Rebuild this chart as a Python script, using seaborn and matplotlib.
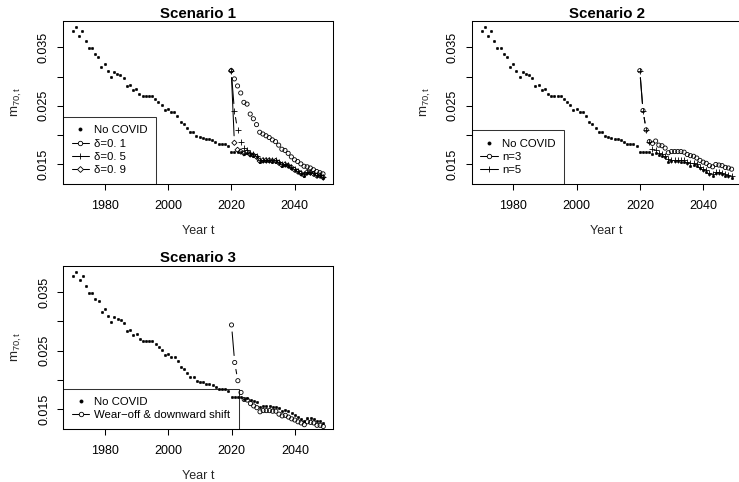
import numpy as np
import matplotlib
matplotlib.use("Agg")
import matplotlib.pyplot as plt
import seaborn as sns
from matplotlib.lines import Line2D

# ---------------------------------------
# data
# ---------------------------------------
years = np.arange(1970, 2050)
covid_years = np.arange(2020, 2050)

no_covid = [
    0.0378, 0.0385, 0.0370, 0.0378, 0.0360, 0.0349, 0.0349, 0.0338, 0.0334, 0.0316,
    0.0321, 0.0309, 0.0299, 0.0307, 0.0304, 0.0303, 0.0297, 0.0284, 0.0285, 0.0277,
    0.0278, 0.0270, 0.0266, 0.0267, 0.0267, 0.0266, 0.0261, 0.0257, 0.0251, 0.0243,
    0.0245, 0.0239, 0.0240, 0.0232, 0.0223, 0.0219, 0.0212, 0.0205, 0.0206, 0.0199,
    0.0197, 0.0196, 0.0193, 0.0193, 0.0191, 0.0188, 0.0185, 0.0185, 0.0185, 0.0182,
    0.0172, 0.0172, 0.0172, 0.0171, 0.0168, 0.0170, 0.0166, 0.0165, 0.0162, 0.0155,
    0.0156, 0.0156, 0.0156, 0.0155, 0.0155, 0.0152, 0.0148, 0.0149, 0.0147, 0.0144,
    0.0140, 0.0137, 0.0134, 0.0131, 0.0136, 0.0135, 0.0133, 0.0130, 0.0130, 0.0127,
]

delta_01 = [
    0.0310, 0.0296, 0.0284, 0.0272, 0.0256, 0.0253, 0.0236, 0.0228, 0.0218, 0.0205,
    0.0202, 0.0199, 0.0196, 0.0192, 0.0189, 0.0183, 0.0176, 0.0174, 0.0169, 0.0163,
    0.0158, 0.0155, 0.0151, 0.0147, 0.0146, 0.0144, 0.0141, 0.0138, 0.0136, 0.0134,
]
delta_05 = [
    0.0310, 0.0242, 0.0209, 0.0189, 0.0178, 0.0175, 0.0169, 0.0168, 0.0165, 0.0158,
    0.0158, 0.0158, 0.0158, 0.0157, 0.0157, 0.0154, 0.0150, 0.0151, 0.0149, 0.0146,
    0.0142, 0.0139, 0.0136, 0.0133, 0.0138, 0.0137, 0.0135, 0.0132, 0.0132, 0.0129,
]
delta_09 = [
    0.0310, 0.0187, 0.0175, 0.0172, 0.0169, 0.0171, 0.0167, 0.0166, 0.0163, 0.0156,
    0.0157, 0.0157, 0.0157, 0.0156, 0.0156, 0.0153, 0.0149, 0.0150, 0.0148, 0.0145,
    0.0141, 0.0138, 0.0135, 0.0132, 0.0137, 0.0136, 0.0134, 0.0131, 0.0131, 0.0128,
]

n3 = [
    0.0310, 0.0242, 0.0209, 0.0189, 0.0186, 0.0190, 0.0183, 0.0182, 0.0178, 0.0170,
    0.0172, 0.0172, 0.0172, 0.0172, 0.0171, 0.0167, 0.0165, 0.0164, 0.0161, 0.0157,
    0.0154, 0.0152, 0.0148, 0.0146, 0.0150, 0.0149, 0.0148, 0.0145, 0.0144, 0.0142,
]
n5 = [
    0.0310, 0.0242, 0.0209, 0.0189, 0.0177, 0.0175, 0.0170, 0.0168, 0.0165, 0.0159,
    0.0158, 0.0158, 0.0158, 0.0158, 0.0157, 0.0155, 0.0153, 0.0152, 0.0150, 0.0146,
    0.0143, 0.0140, 0.0136, 0.0133, 0.0138, 0.0137, 0.0135, 0.0133, 0.0132, 0.0130,
]

wear_off = [
    0.0294, 0.0230, 0.0199, 0.0179, 0.0167, 0.0166, 0.0160, 0.0156, 0.0153, 0.0146,
    0.0148, 0.0148, 0.0148, 0.0147, 0.0147, 0.0142, 0.0139, 0.0140, 0.0137, 0.0134,
    0.0132, 0.0129, 0.0127, 0.0124, 0.0129, 0.0128, 0.0127, 0.0123, 0.0123, 0.0121,
]

# ---------------------------------------
# style
# ---------------------------------------
sns.set_theme(style="ticks")
plt.rcParams["font.family"] = ["Liberation Sans", "DejaVu Sans"]
plt.rcParams["mathtext.fontset"] = "custom"
plt.rcParams["mathtext.rm"] = "Liberation Sans"
plt.rcParams["mathtext.it"] = "Liberation Sans:italic"
plt.rcParams["text.color"] = "black"
plt.rcParams["axes.edgecolor"] = "black"
plt.rcParams["xtick.color"] = "black"
plt.rcParams["ytick.color"] = "black"

LW = 0.75
GAP = 7.0  # pixel gap around points, like R type="b"


def gapped_lines(ax, x, y):
    # R style type="b": segments with gaps around each point
    pts = ax.transData.transform(np.column_stack([x, y]))
    inv = ax.transData.inverted()
    for (x0, y0), (x1, y1) in zip(pts[:-1], pts[1:]):
        d = np.hypot(x1 - x0, y1 - y0)
        if d <= 2 * GAP:
            continue
        ux, uy = (x1 - x0) / d, (y1 - y0) / d
        a = inv.transform((x0 + ux * GAP, y0 + uy * GAP))
        b = inv.transform((x1 - ux * GAP, y1 - uy * GAP))
        ax.plot([a[0], b[0]], [a[1], b[1]], color="black", lw=LW,
                scalex=False, scaley=False)


def draw_points(ax, x, y, kind):
    if kind == "dot":
        sns.scatterplot(x=x, y=y, ax=ax, marker="o", s=3.5, color="black",
                        edgecolor="black", linewidth=0.3, legend=False, zorder=3)
    elif kind == "circle":
        sns.scatterplot(x=x, y=y, ax=ax, marker="o", s=9, facecolor="none",
                        edgecolor="black", linewidth=0.6, legend=False, zorder=3)
    elif kind == "plus":
        sns.scatterplot(x=x, y=y, ax=ax, marker="+", s=16, color="black",
                        edgecolor="black", linewidth=0.6, legend=False, zorder=3)
    elif kind == "diamond":
        sns.scatterplot(x=x, y=y, ax=ax, marker="D", s=7, facecolor="none",
                        edgecolor="black", linewidth=0.6, legend=False, zorder=3)


HANDLE = {
    "dot": dict(marker="o", markersize=2.2, linestyle="none"),
    "circle": dict(marker="o", markersize=3.2, markerfacecolor="white", linestyle="-"),
    "plus": dict(marker="+", markersize=5, linestyle="-"),
    "diamond": dict(marker="D", markersize=3, markerfacecolor="white", linestyle="-"),
}


def setup_axes(ax, title):
    pad_x = 0.04 * (years[-1] - years[0])
    lo, hi = min(no_covid), max(no_covid)
    pad_y = 0.04 * (hi - lo)
    ax.set_xlim(years[0] - pad_x, years[-1] + pad_x)
    ax.set_ylim(lo - pad_y, hi + pad_y)
    ax.set_xticks([1980, 2000, 2020, 2040])
    ax.set_yticks([0.015, 0.020, 0.025, 0.030, 0.035])
    ax.set_yticklabels(["0.015", "", "0.025", "", "0.035"])
    ax.tick_params(length=4.5, width=LW, pad=5, labelsize=9, direction="out")
    ax.tick_params(axis="x", pad=7)
    ax.tick_params(axis="y", labelrotation=90)
    for t in ax.get_yticklabels():
        t.set_va("center")
    for sp in ax.spines.values():
        sp.set_visible(True)
        sp.set_linewidth(LW)
    ax.set_title(title, fontsize=10.8, fontweight="bold", pad=2)
    ax.set_xlabel("Year t", fontsize=9, labelpad=9.5)
    ax.set_ylabel(r"$\mathrm{m_{70,t}}$", fontsize=9.5, labelpad=10)


def add_legend(ax, entries):
    handles = [Line2D([0], [0], color="black", lw=LW, markeredgewidth=0.6,
                      **HANDLE[kind]) for kind, _ in entries]
    labels = [lab for _, lab in entries]
    leg = ax.legend(handles, labels, loc="lower left", borderaxespad=0,
                    fontsize=8.2, frameon=True, fancybox=False,
                    edgecolor="black", facecolor="none", borderpad=0.75,
                    labelspacing=0.3, handlelength=1.55, handletextpad=0.4)
    leg.get_frame().set_linewidth(LW)


# ---------------------------------------
# figure
# ---------------------------------------
fig = plt.figure(figsize=(7.39, 4.82), dpi=100)
W, H = 739.0, 482.0
ax1 = fig.add_axes([63 / W, (H - 184) / H, 270 / W, 163.3 / H])
ax2 = fig.add_axes([471.6 / W, (H - 184) / H, 270 / W, 163.3 / H])
ax3 = fig.add_axes([63.3 / W, (H - 429) / H, 270 / W, 163.5 / H])

panels = [
    (ax1, "Scenario 1", [(delta_01, "circle"), (delta_05, "plus"), (delta_09, "diamond")],
     [("dot", "No COVID"), ("circle", "δ=0. 1"), ("plus", "δ=0. 5"), ("diamond", "δ=0. 9")]),
    (ax2, "Scenario 2", [(n3, "circle"), (n5, "plus")],
     [("dot", "No COVID"), ("circle", "n=3"), ("plus", "n=5")]),
    (ax3, "Scenario 3", [(wear_off, "circle")],
     [("dot", "No COVID"), ("circle", "Wear\u2212off & downward shift")]),
]

for ax, title, series, entries in panels:
    setup_axes(ax, title)
    draw_points(ax, years, no_covid, "dot")
    for vals, kind in series:
        draw_points(ax, covid_years, vals, kind)
        gapped_lines(ax, covid_years, vals)
    setup_axes(ax, title)
    add_legend(ax, entries)

fig.savefig("out.png", dpi=100)
